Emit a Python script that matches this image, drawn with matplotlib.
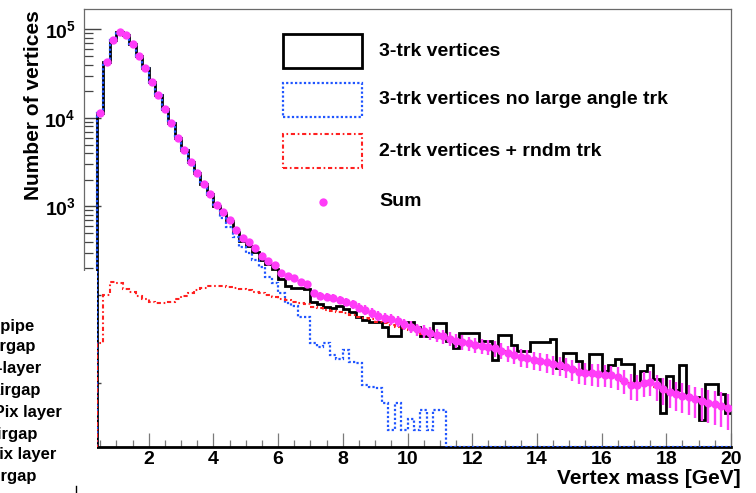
import numpy as np
import matplotlib
matplotlib.use("Agg")
import matplotlib.pyplot as plt
from matplotlib.patches import Rectangle
from matplotlib.lines import Line2D
from matplotlib.ticker import MultipleLocator, LogLocator, NullFormatter, FuncFormatter

plt.rcParams["font.family"] = ["Liberation Sans", "DejaVu Sans"]
plt.rcParams["font.weight"] = "bold"
plt.rcParams["mathtext.fontset"] = "custom"
plt.rcParams["mathtext.rm"] = "Liberation Sans:bold"
plt.rcParams["mathtext.bf"] = "Liberation Sans:bold"

# binning of the vertex-mass histograms [GeV]
MASS_MIN, MASS_MAX, N_BINS = 0.0, 20.0, 100

# 3-trk vertices
three_trk = [
    0, 0, 11500, 43000, 76000, 93000, 87000, 68500, 50000, 37000,
    25700, 18200, 12500, 8700, 6000, 4350, 3200, 2400, 1800, 1370,
    1020, 850, 680, 520, 410, 360, 305, 250, 222, 198,
    152, 126, 120, 119, 118, 84, 78, 74, 71, 75,
    69, 64, 56, 52, 50, 50, 44, 34, 34, 50,
    50, 44, 34, 34, 48, 48, 30, 25, 37, 37,
    37, 30, 30, 18.6, 35, 35, 27, 23, 23, 29.7,
    29.7, 29.7, 31.6, 14.8, 22, 22, 18, 14, 21.5, 21.5,
    14, 16.3, 19, 16.6, 16.6, 10, 14, 16.3, 11.2, 4.6,
    12, 8.5, 16.3, 7.1, 7.1, 3.9, 9.8, 9.8, 7.7, 4.6,
]

# 3-trk vertices without large angle track
three_trk_no_la = [
    0, 0, 11500, 43000, 76000, 93000, 87000, 68500, 50000, 37000,
    25700, 18200, 12500, 8700, 6000, 4350, 3200, 2400, 1800, 1370,
    1000, 740, 590, 457, 352, 296, 245, 209, 161, 135,
    105, 82, 75, 57, 57, 29, 26, 28.7, 21, 19,
    24, 17.6, 17, 9.5, 9.2, 8.8, 6, 3, 6, 3,
    4, 3, 5, 3, 5, 5, 0, 0, 0, 0,
    0, 0, 0, 0, 0, 0, 0, 0, 0, 0,
    0, 0, 0, 0, 0, 0, 0, 0, 0, 0,
    0, 0, 0, 0, 0, 0, 0, 0, 0, 0,
    0, 0, 0, 0, 0, 0, 0, 0, 0, 0,
]

# 2-trk vertices + random track
two_trk_rndm = [
    0, 0, 29, 100, 139, 136, 118, 108, 98, 91,
    84, 81, 81, 84, 90, 98, 105, 113, 120, 125,
    126, 125, 123, 120, 117, 113, 108, 104, 100, 95,
    90, 87, 84, 81, 78, 74, 71, 68, 66, 64,
    62, 60, 57, 55, 53, 50, 48, 46, 44, 42,
    40, 38, 36.5, 35, 34, 32.5, 31.5, 30.5, 29.5, 28.5,
    27.5, 26.5, 25.5, 24.5, 23, 22, 21, 20, 19.2, 18.6,
    18, 17.3, 16.6, 16, 15.3, 14.5, 13.8, 13.3, 13, 12.7,
    12.4, 12, 11.5, 10.8, 10.2, 10, 10, 9.8, 9.2, 8.6,
    8.1, 7.6, 7.2, 6.9, 6.6, 6.3, 6.0, 5.8, 5.6, 5.3,
]

# sum of the two templates
sum_vtx = [
    0, 0, 11500, 43300, 76000, 93000, 87000, 68500, 50000, 37000,
    25700, 18200, 12500, 8700, 6000, 4350, 3200, 2410, 1800, 1370,
    1040, 870, 703, 542, 444, 400, 337, 276, 244, 218,
    176, 164, 157, 141, 133, 104, 97, 96, 92, 88,
    84, 79, 72, 68, 63, 58, 55, 53, 51, 47,
    44, 41, 39, 37, 35, 34, 32, 30.5, 29.5, 28.5,
    27.5, 26.5, 26, 25, 23.5, 22, 21, 20, 19.2, 18.6,
    18, 17.3, 16.6, 16, 15.3, 14.5, 13.5, 13.2, 13, 12.8,
    12.6, 12.4, 11.8, 10.8, 9.6, 9.5, 10.2, 10.5, 9.5, 8.6,
    8.1, 7.7, 7.3, 7.0, 6.6, 6.3, 6.0, 5.8, 5.6, 5.3,
]

# material-layer labels of the neighbouring panel
layer_labels = ["Beampipe", "Airgap", "B-layer", "Airgap",
                "1st Pix layer", "Airgap", "2nd Pix layer", "Airgap"]

YMIN, YMAX = 1.94, 1.7e5
W, H = 756, 493

MAGENTA = "#ff3cf8"
BLUE = "#1f55ff"
RED = "#ff2020"
BLUE_LS = (0, (1.0, 1.0))
RED_LS = (0, (2.0, 1.3, 0.8, 1.3))


def fx(px):
    return px / W


def fy(py):
    return 1 - py / H


edges = np.linspace(MASS_MIN, MASS_MAX, N_BINS + 1)
centers = 0.5 * (edges[:-1] + edges[1:])

fig = plt.figure(figsize=(W / 100, H / 100), dpi=100)
ax = fig.add_axes([fx(84), fy(446.5), fx(731) - fx(84), fy(9) - fy(446.5)])
ax.set_yscale("log")
ax.set_xlim(MASS_MIN, MASS_MAX)
ax.set_ylim(YMIN, YMAX)


def floored(vals):
    # empty bins sit on the bottom of the log frame
    v = np.asarray(vals, dtype=float)
    return np.where(v > 0, v, YMIN)


ax.stairs(floored(three_trk), edges, baseline=None, color="black", lw=2.0, zorder=3)
ax.stairs(floored(three_trk_no_la), edges, baseline=None, color=BLUE, lw=1.6,
          linestyle=BLUE_LS, zorder=4)
ax.stairs(floored(two_trk_rndm), edges, baseline=None, color=RED, lw=1.5,
          linestyle=RED_LS, zorder=4)

s = np.asarray(sum_vtx, dtype=float)
m = s > 0
ax.errorbar(centers[m], s[m], yerr=np.sqrt(s[m]), fmt="o", color=MAGENTA,
            ms=6, mew=0, elinewidth=1.7, capsize=0, zorder=5)

# frame
for side in ("left", "top", "right"):
    ax.spines[side].set_color("#6a6a6a")
    ax.spines[side].set_linewidth(0.9)
ax.spines["bottom"].set_color("black")
ax.spines["bottom"].set_linewidth(2.0)

ax.xaxis.set_major_locator(MultipleLocator(2))
ax.xaxis.set_minor_locator(MultipleLocator(0.5))
ax.xaxis.set_major_formatter(FuncFormatter(lambda v, p: "" if v < 1 else f"{v:.0f}"))
ax.yaxis.set_major_locator(LogLocator(base=10, numticks=10))
ax.yaxis.set_minor_locator(LogLocator(base=10, subs=np.arange(2, 10), numticks=20))
ax.yaxis.set_minor_formatter(NullFormatter())
ax.yaxis.set_major_formatter(FuncFormatter(
    lambda v, p: rf"$\mathbf{{10^{{{int(round(np.log10(v)))}}}}}$"))

ax.tick_params(axis="x", which="major", direction="in", length=10, width=0.9,
               color="#7a7a7a", labelsize=14, pad=3)
ax.tick_params(axis="x", which="minor", direction="in", length=5, width=0.9,
               color="#7a7a7a")
ax.tick_params(axis="y", which="major", direction="in", length=12, width=1.0,
               color="#444444", labelsize=14, pad=6)
ax.tick_params(axis="y", which="minor", direction="in", length=6.5, width=0.9,
               color="#444444")
for lab in ax.get_xticklabels() + ax.get_yticklabels():
    lab.set_fontweight("bold")

ax.set_xlabel("Vertex mass [GeV]", fontsize=15, fontweight="bold", loc="right")
ax.xaxis.set_label_coords((741 - 84) / 647, (446.5 - 468.5) / 437.5)
ax.set_ylabel("Number of vertices", fontsize=15, fontweight="bold", loc="top")
ax.yaxis.set_label_coords((43 - 84) / 647, (446.5 - 10) / 437.5)

# legend, drawn as framed boxes
legend_rows = [
    ("3-trk vertices", dict(edgecolor="black", lw=2.0, linestyle="-"), 51),
    ("3-trk vertices no large angle trk",
     dict(edgecolor=BLUE, lw=1.6, linestyle=BLUE_LS), 100),
    ("2-trk vertices + rndm trk",
     dict(edgecolor=RED, lw=1.5, linestyle=RED_LS), 151),
]
for text, style, yc in legend_rows:
    fig.patches.append(Rectangle((fx(283), fy(yc + 17)), fx(362) - fx(283),
                                 fy(yc - 17) - fy(yc + 17), facecolor="none",
                                 transform=fig.transFigure, zorder=10, **style))
    fig.text(fx(379), fy(yc), text, fontsize=14, fontweight="bold",
             ha="left", va="center", zorder=10)
fig.lines.append(Line2D([fx(323)], [fy(202)], marker="o", ms=6, mew=0,
                        color=MAGENTA, transform=fig.transFigure, zorder=10))
fig.text(fx(379), fy(202), "Sum", fontsize=14, fontweight="bold",
         ha="left", va="center", zorder=10)

# neighbouring panel overlapping the lower left corner
fig.patches.append(Rectangle((0, 0), fx(96.5), fy(271), facecolor="white",
                             edgecolor="none", transform=fig.transFigure, zorder=20))
label_right = [35, 36, 42, 41, 62, 38, 56, 37]
label_y = [326, 347, 368, 390, 412, 434, 455, 477]
for text, xr, yc in zip(layer_labels, label_right, label_y):
    fig.text(fx(xr), fy(yc), text, fontsize=12, fontweight="bold",
             ha="right", va="center", zorder=21)
fig.lines.append(Line2D([fx(76), fx(76)], [fy(486), fy(493)], color="black",
                        lw=1.0, transform=fig.transFigure, zorder=21))

fig.savefig("out.png", dpi=100, facecolor="white")
